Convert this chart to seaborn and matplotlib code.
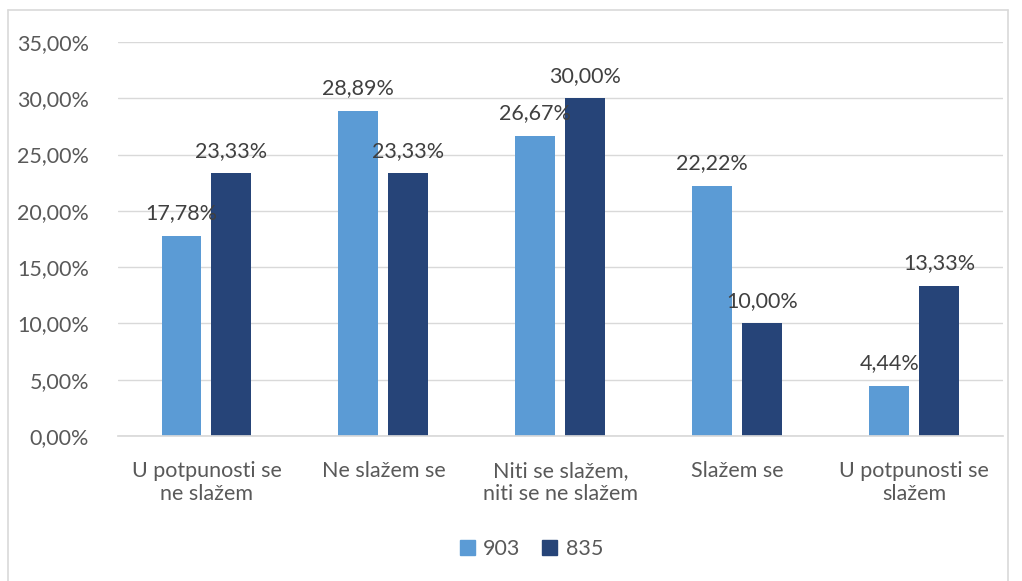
import matplotlib
matplotlib.use("Agg")
import matplotlib.pyplot as plt
import matplotlib.patches as mpatches
from matplotlib.lines import Line2D
from matplotlib.ticker import FuncFormatter, MultipleLocator
import pandas as pd
import seaborn as sns

# ── Data ───────────────────────────────────────────────────────────────────────
categories = [
    "U potpunosti se\nne slažem",
    "Ne slažem se",
    "Niti se slažem,\nniti se ne slažem",
    "Slažem se",
    "U potpunosti se\nslažem",
]
series = ["903", "835"]
values_903 = [17.78, 28.89, 26.67, 22.22, 4.44]
values_835 = [23.33, 23.33, 30.00, 10.00, 13.33]

COLORS = {"903": "#5B9BD5", "835": "#264478"}
TEXT = "#595959"
GRID = "#D9D9D9"
FS = 15.5

df = pd.DataFrame({
    "category": categories * 2,
    "series": [series[0]] * len(categories) + [series[1]] * len(categories),
    "value": values_903 + values_835,
})

sns.set_theme(style="white")
plt.rcParams["font.family"] = ["Lato", "DejaVu Sans"]

fig = plt.figure(figsize=(10.22, 5.81), dpi=100)
ax = fig.add_axes([0.1155, 0.2496, 0.8655, 0.6781])

sns.barplot(data=df, x="category", y="value", hue="series",
            order=categories, hue_order=series, palette=COLORS,
            width=0.565, gap=0.2, ax=ax, legend=False, saturation=1,
            edgecolor="none", linewidth=0)

ax.set_ylim(0, 35)
ax.yaxis.set_major_locator(MultipleLocator(5))
ax.yaxis.set_major_formatter(FuncFormatter(lambda v, _: f"{v:.2f}%".replace(".", ",")))
ax.yaxis.grid(True, color=GRID, linewidth=1)
ax.set_axisbelow(True)
ax.set_xlabel("")
ax.set_ylabel("")
ax.tick_params(axis="both", length=0, labelsize=FS, colors=TEXT)
ax.tick_params(axis="x", pad=18)
ax.tick_params(axis="y", pad=21)
for lbl in ax.get_xticklabels():
    lbl.set_linespacing(1.2)
for side in ["top", "right", "left"]:
    ax.spines[side].set_visible(False)
ax.spines["bottom"].set_color(GRID)

# value labels
for container in ax.containers:
    ax.bar_label(container, labels=[f"{b.get_height():.2f}%".replace(".", ",")
                                    for b in container],
                 padding=9, fontsize=FS, color="#404040")

# legend
handles = [mpatches.Patch(color=COLORS[s], label=s) for s in series]
fig.legend(handles=handles, loc="center", bbox_to_anchor=(0.52, 0.055), ncol=2,
           frameon=False, fontsize=FS, handlelength=0.7, handleheight=0.7,
           handletextpad=0.4, columnspacing=1.0, labelcolor=TEXT)

# chart border
bx0, bx1, by1 = 8 / 1022, 1008 / 1022, 1 - 10 / 581
for xs, ys in [([bx0, bx0], [0, by1]), ([bx0, bx1], [by1, by1]), ([bx1, bx1], [by1, 0])]:
    fig.add_artist(Line2D(xs, ys, color=GRID, linewidth=1.2, transform=fig.transFigure))

fig.savefig("out.png", dpi=100, facecolor="white")
plt.close(fig)
